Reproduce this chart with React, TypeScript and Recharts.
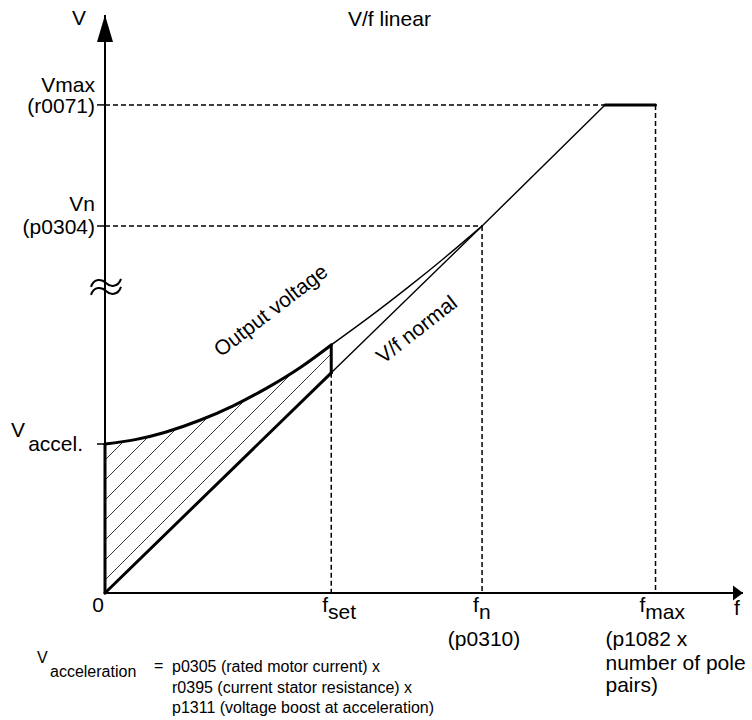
import React from 'react';
import { ComposedChart, Line, Area, XAxis, YAxis, ReferenceDot } from 'recharts';

const FONT = '"Liberation Sans", Arial, Helvetica, sans-serif';

// f in Hz (fn = 50), V in % of Vn
const F_AXIS_MAX = 84.6;
const V_AXIS_MAX = 157.5;

const fSet = 30;
const fN = 50;
const fCorner = 66.3; // where output reaches Vmax
const fMax = 73;

const vAccel = 40.6;
const vN = 100;
const vMax = 133;
const vNormalAtSet = 60;
const vBoostAtSet = 67.6;
const vBreak = 83.4; // position of the axis break mark

// boosted output voltage between 0 and fset
const boostF = [0, 4, 8, 12.5, 17, 21.5, 26, 30];
const boostV = [40.6, 41.8, 43.8, 47.0, 51.0, 55.9, 61.6, 67.6];
// V/f normal at the same frequencies (lower edge of hatched area)
const normalV = [0, 8, 16, 25, 34, 43, 52, 60];

// output voltage from fset up to fn (thin)
const outF = [30, 35, 40, 45, 50];
const outV = [67.6, 75.1, 83.0, 91.3, 100];

const xTicks = [0, fSet, fN, fMax];
const xTickMain = ['0', 'f', 'f', 'f'];
const xTickSub = ['', 'set', 'n', 'max'];
const xTickNotes = [[], [], ['(p0310)'], ['(p1082 x', 'number of pole', 'pairs)']];

const yTicks = [vAccel, vN, vMax];
const yTickLines = [['V', 'accel.'], ['Vn', '(p0304)'], ['Vmax', '(r0071)']];

const noteLines = [
    'p0305 (rated motor current) x',
    'r0395 (current stator resistance) x',
    'p1311 (voltage boost at acceleration)'
];

const pts = (f: number[], v: number[]) => f.map((x, i) => ({ f: x, v: v[i] }));

const hatchData = boostF.map((f, i) => ({ f, band: [normalV[i], boostV[i]] }));
const boostData = pts(boostF, boostV);
const outData = pts(outF, outV);

const thick = [
    pts([0, 0], [0, vAccel]),
    boostData,
    pts([fSet, fSet], [vNormalAtSet, vBoostAtSet]),
    pts([0, fSet], [0, vNormalAtSet]),
    pts([fCorner, fMax], [vMax, vMax])
];

const thin = [
    pts([fSet, fN], [vNormalAtSet, vN]),
    outData,
    pts([fN, fCorner], [vN, vMax])
];

const dashed = [
    pts([0, fCorner], [vMax, vMax]),
    pts([fMax, fMax], [vMax, 0]),
    pts([0, fN], [vN, vN]),
    pts([fN, fN], [vN, 0]),
    pts([fSet, fSet], [vNormalAtSet, 0])
];

function XTick(props: any) {
    const { x, y, payload } = props;
    const i = xTicks.indexOf(payload.value);
    if (i < 0) return <g />;
    const dx = [-7, -9, -9, -16][i];
    const notes = xTickNotes[i];
    return (
        <g fontFamily={FONT} fontSize={21} fill="#000">
            {i === 0 ? (
                <text x={x + dx} y={y + 19} textAnchor="middle">{xTickMain[i]}</text>
            ) : (
                <text x={x + dx} y={y + 19}>
                    {xTickMain[i]}
                    <tspan dy={7}>{xTickSub[i]}</tspan>
                </text>
            )}
            {notes.length === 1 && (
                <text x={x + 2} y={y + 53} textAnchor="middle">{notes[0]}</text>
            )}
            {notes.length > 1 && notes.map((n, k) => (
                <text key={k} x={x - 50} y={y + [53, 77, 99][k]}>{n}</text>
            ))}
        </g>
    );
}

function YTick(props: any) {
    const { x, y, payload } = props;
    const i = yTicks.indexOf(payload.value);
    if (i < 0) return <g />;
    const lines = yTickLines[i];
    if (i === 0) {
        return (
            <g fontFamily={FONT} fontSize={21} fill="#000">
                <text x={x - 70} y={y - 7} textAnchor="end">{lines[0]}</text>
                <text x={x - 12} y={y + 7} textAnchor="end">{lines[1]}</text>
            </g>
        );
    }
    const off = i === 1 ? [-15, 8] : [-13, 8];
    return (
        <g fontFamily={FONT} fontSize={21} fill="#000">
            <text x={x} y={y + off[0]} textAnchor="end">{lines[0]}</text>
            <text x={x} y={y + off[1]} textAnchor="end">{lines[1]}</text>
        </g>
    );
}

const ArrowRight = (p: any) => (
    <path d={`M${p.cx},${p.cy} L${p.cx - 10},${p.cy - 7.5} L${p.cx - 10},${p.cy + 7.5} Z`} fill="#000" />
);

const ArrowUp = (p: any) => (
    <path d={`M${p.cx},${p.cy} L${p.cx - 8},${p.cy + 27} L${p.cx + 8},${p.cy + 27} Z`} fill="#000" />
);

const wave = (cx: number, cy: number) =>
    `M${cx - 15},${cy + 4} C${cx - 12},${cy - 5} ${cx - 4},${cy - 4} ${cx},${cy} ` +
    `C${cx + 4},${cy + 4} ${cx + 12},${cy + 5} ${cx + 15},${cy - 4}`;

const AxisBreak = (p: any) => (
    <g fill="none" stroke="#000" strokeWidth={2}>
        <path d={wave(p.cx + 1, p.cy - 4)} />
        <path d={wave(p.cx + 1, p.cy + 4)} />
    </g>
);

function seriesLine(data: any[], key: string, width: number, type: any = 'linear', dash?: string) {
    return (
        <Line
            key={key}
            data={data}
            dataKey="v"
            type={type}
            stroke="#000"
            strokeWidth={width}
            strokeDasharray={dash}
            strokeLinecap={dash ? 'butt' : 'round'}
            strokeLinejoin="round"
            dot={false}
            activeDot={false}
            isAnimationActive={false}
        />
    );
}

export default function App() {
    return (
        <div style={{ position: 'absolute', left: 0, top: 0, width: 752, height: 720, background: '#fff' }}>
            <ComposedChart
                width={752}
                height={720}
                data={hatchData}
                margin={{ top: 15, right: 9, bottom: 0, left: 0 }}
            >
                <defs>
                    <pattern id="hatch" patternUnits="userSpaceOnUse" width={20} height={20} x={5} y={0}>
                        <path d="M-5,5 L5,-5 M0,20 L20,0 M15,25 L25,15" stroke="#000" strokeWidth={0.8} />
                    </pattern>
                </defs>
                <XAxis
                    type="number"
                    dataKey="f"
                    domain={[0, F_AXIS_MAX]}
                    ticks={xTicks}
                    interval={0}
                    height={127}
                    tickSize={0}
                    tickMargin={0}
                    tickLine={false}
                    axisLine={{ stroke: '#000', strokeWidth: 2 }}
                    tick={(p: any) => <XTick {...p} />}
                />
                <YAxis
                    type="number"
                    domain={[0, V_AXIS_MAX]}
                    ticks={yTicks}
                    interval={0}
                    width={105}
                    tickSize={8}
                    tickMargin={2}
                    tickLine={{ stroke: '#000', strokeWidth: 1.5 }}
                    axisLine={{ stroke: '#000', strokeWidth: 2 }}
                    tick={(p: any) => <YTick {...p} />}
                />
                <Area
                    dataKey="band"
                    type="natural"
                    fill="url(#hatch)"
                    fillOpacity={1}
                    stroke="none"
                    isAnimationActive={false}
                    activeDot={false}
                />
                {dashed.map((d, i) => seriesLine(d, 'dash' + i, 1.5, 'linear', '5 3'))}
                {thin.map((d, i) => seriesLine(d, 'thin' + i, 1.4, i === 1 ? 'natural' : 'linear'))}
                {thick.map((d, i) => seriesLine(d, 'thick' + i, 3, i === 1 ? 'natural' : 'linear'))}
                <ReferenceDot x={F_AXIS_MAX} y={0} ifOverflow="visible" shape={ArrowRight} />
                <ReferenceDot x={0} y={V_AXIS_MAX} ifOverflow="visible" shape={ArrowUp} />
                <ReferenceDot x={0} y={vBreak} ifOverflow="visible" shape={AxisBreak} />
            </ComposedChart>
            <svg
                width={752}
                height={720}
                style={{ position: 'absolute', left: 0, top: 0, pointerEvents: 'none' }}
                fontFamily={FONT}
                fill="#000"
            >
                <text x={348} y={26} fontSize={21}>V/f linear</text>
                <text x={72} y={25} fontSize={21}>V</text>
                <text x={734} y={615} fontSize={21}>f</text>
                <text x={275} y={316} fontSize={21} textAnchor="middle" transform="rotate(-37.5 275 316)">
                    Output voltage
                </text>
                <text x={421} y={335} fontSize={21} textAnchor="middle" transform="rotate(-38 421 335)">
                    V/f normal
                </text>
                <text x={37} y={663} fontSize={16}>V</text>
                <text x={50} y={677} fontSize={16}>acceleration</text>
                <text x={154} y={671} fontSize={16}>=</text>
                {noteLines.map((t, i) => (
                    <text key={i} x={172} y={672 + i * 20.5} fontSize={16}>{t}</text>
                ))}
            </svg>
        </div>
    );
}
